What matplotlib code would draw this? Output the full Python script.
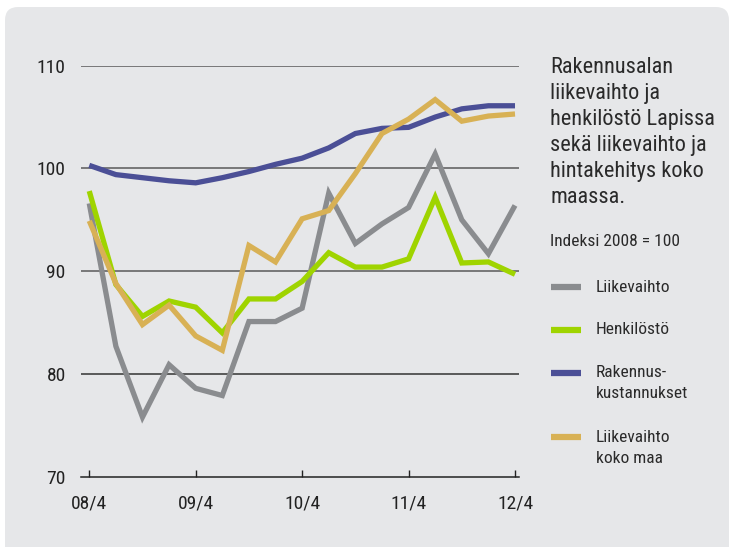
import matplotlib
matplotlib.use("Agg")
import matplotlib.pyplot as plt
import matplotlib.font_manager as fm
from matplotlib.patches import FancyBboxPatch
from matplotlib.lines import Line2D

installed = {f.name for f in fm.fontManager.ttflist}
main_font = "Roboto"
for cand in ["Roboto Condensed", "Liberation Sans Narrow", "Open Sans Condensed", "Noto Sans Condensed"]:
    if cand in installed:
        main_font = cand
        break
plt.rcParams['font.family'] = [main_font, 'DejaVu Sans']

quarters = ["08/4", "", "", "", "09/4", "", "", "", "10/4", "", "", "", "11/4", "", "", "", "12/4"]
tick_labels = ["08/4", "09/4", "10/4", "11/4", "12/4"]

liikevaihto = [96.6, 82.7, 75.8, 80.9, 78.6, 77.9, 85.1, 85.1, 86.4, 97.6, 92.7, 94.6, 96.2, 101.4, 95.0, 91.7, 96.4]
henkilosto = [97.8, 88.7, 85.6, 87.1, 86.5, 84.0, 87.3, 87.3, 89.0, 91.8, 90.4, 90.4, 91.2, 97.2, 90.8, 90.9, 89.7]
rakennuskust = [100.3, 99.4, 99.1, 98.8, 98.6, 99.1, 99.7, 100.4, 101.0, 102.0, 103.4, 103.9, 104.0, 105.0, 105.8, 106.1, 106.1]
liikevaihto_koko = [94.9, 88.8, 84.8, 86.7, 83.7, 82.3, 92.5, 90.9, 95.1, 95.9, 99.5, 103.4, 104.8, 106.7, 104.6, 105.1, 105.3]

series_names = ["Liikevaihto", "Henkilöstö", "Rakennus-\nkustannukset", "Liikevaihto\nkoko maa"]
colors = ["#8a8c8f", "#9fd400", "#4b4f96", "#d8b155"]

W, H = 730, 547
fig = plt.figure(figsize=(W / 100, H / 100), dpi=100)
fig.patch.set_facecolor("white")

# background panel
panel = FancyBboxPatch((5 / W, 1 - 560 / H), (729 - 5) / W, (560 - 7) / H,
                       boxstyle="round,pad=0,rounding_size=0.018",
                       transform=fig.transFigure, facecolor="#e6e7e9",
                       edgecolor="none", zorder=-10, mutation_aspect=W / H)
fig.patches.append(panel)

ax = fig.add_axes([81 / W, 1 - 476.7 / H, (519 - 81) / W, (476.7 - 65.7) / H])
ax.set_facecolor("none")
ax.set_zorder(5)

x = list(range(len(quarters)))
data = [liikevaihto, henkilosto, rakennuskust, liikevaihto_koko]
for vals, c in zip(data, colors):
    ax.plot(x, vals, color=c, lw=3.8, solid_joinstyle="miter", solid_capstyle="butt", zorder=3)

ax.set_xlim(-0.31, 16.15)
ax.set_ylim(70, 110)
ax.set_yticks([70, 80, 90, 100, 110])
ax.set_yticklabels(["70", "80", "90", "100", "110"])
for yv in [80, 90, 100, 110]:
    ax.axhline(yv, color="#5a5a5a" if yv != 80 else "#333333", lw=1.1, zorder=1)

ax.set_xticks([0, 4, 8, 12, 16])
ax.set_xticklabels(tick_labels)
for s in ["top", "right", "left"]:
    ax.spines[s].set_visible(False)
ax.spines["bottom"].set_color("#222222")
ax.spines["bottom"].set_linewidth(1.1)
ax.tick_params(axis="x", direction="in", length=5, width=1, color="#222222",
               labelsize=14, labelcolor="#222222", pad=13)
ax.tick_params(axis="y", length=0, labelsize=14, labelcolor="#222222", pad=11)

# title text
fig.text(550 / W, 1 - 57 / H,
         "Rakennusalan\nliikevaihto ja\nhenkilöstö Lapissa\nsekä liikevaihto ja\nhintakehitys koko\nmaassa.",
         fontsize=16, color="#2a2a2a", va="top", ha="left", linespacing=1.31)
fig.text(550 / W, 1 - 241 / H, "Indeksi 2008 = 100", fontsize=12.5,
         color="#2a2a2a", va="center", ha="left")

# legend
handle_y = [287, 330, 373, 437]
text_y = [287, 329, 383, 448]
for name, c, hy, ty in zip(series_names, colors, handle_y, text_y):
    fig.add_artist(Line2D([551 / W, 581 / W], [1 - hy / H, 1 - hy / H],
                          transform=fig.transFigure, color=c, lw=4.5,
                          solid_capstyle="butt"))
    fig.text(596 / W, 1 - ty / H, name, fontsize=12.5, color="#2a2a2a",
             va="center", ha="left", linespacing=1.45)

fig.savefig("out.png", dpi=100, facecolor="white")
